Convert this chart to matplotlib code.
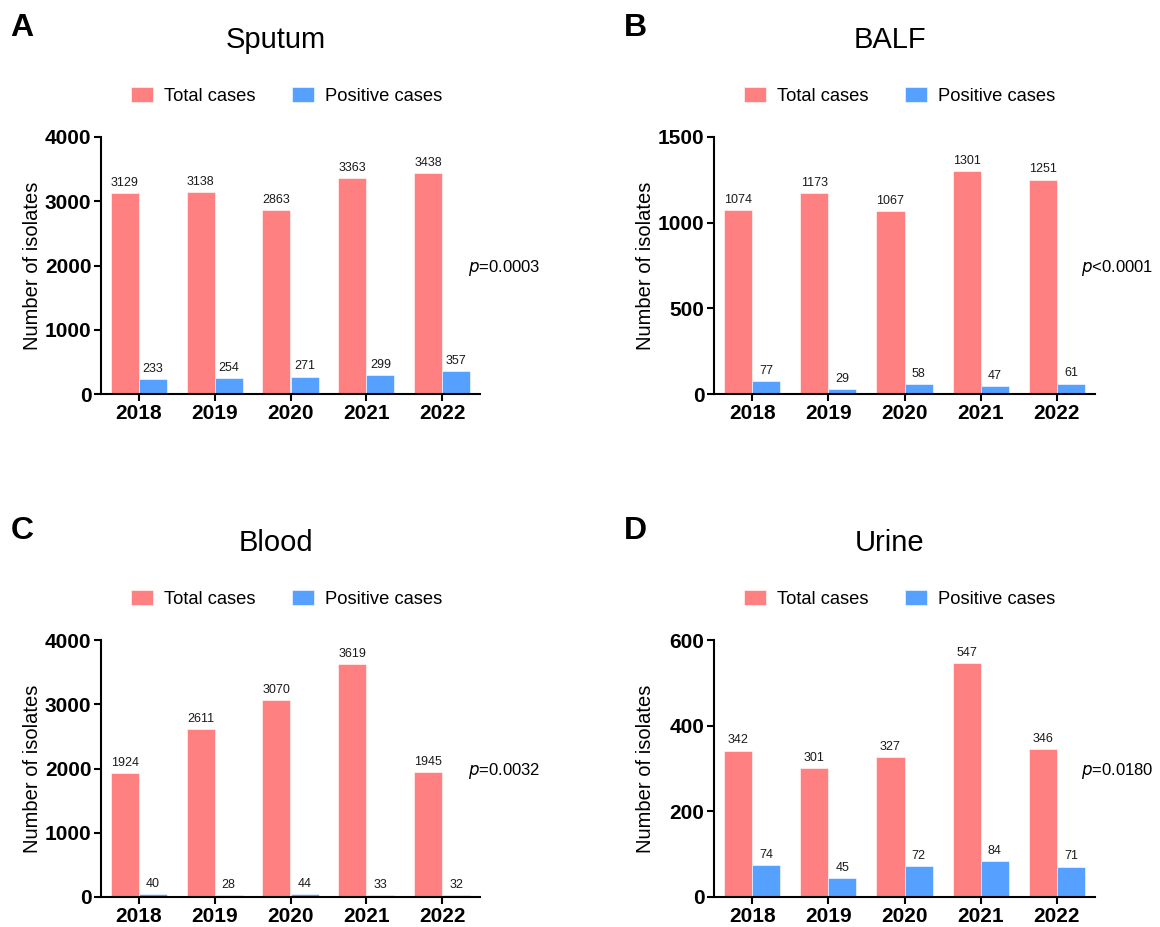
import matplotlib

matplotlib.use("Agg")
import matplotlib.pyplot as plt
import numpy as np

plt.rcParams["font.family"] = ["Liberation Sans", "DejaVu Sans"]

years = ["2018", "2019", "2020", "2021", "2022"]

sputum_total = [3129, 3138, 2863, 3363, 3438]
sputum_pos = [233, 254, 271, 299, 357]
balf_total = [1074, 1173, 1067, 1301, 1251]
balf_pos = [77, 29, 58, 47, 61]
blood_total = [1924, 2611, 3070, 3619, 1945]
blood_pos = [40, 28, 44, 33, 32]
urine_total = [342, 301, 327, 547, 346]
urine_pos = [74, 45, 72, 84, 71]

RED = "#FF8080"
BLUE = "#56A0FF"
W, H = 1160, 927
BAR_W = 0.37


def add_axes_px(fig, left, top, right, bottom):
    return fig.add_axes([left / W, 1 - bottom / H, (right - left) / W, (bottom - top) / H])


def draw_panel(fig, box, letter, title, total, pos, ymax, ystep, ptext):
    left, top, right, bottom = box
    ax = add_axes_px(fig, left, top, right, bottom)
    x = np.arange(len(years))
    b1 = ax.bar(x - BAR_W / 2, total, BAR_W, color=RED, edgecolor="white",
                linewidth=0.4, label="Total cases")
    b2 = ax.bar(x + BAR_W / 2, pos, BAR_W, color=BLUE, edgecolor="white",
                linewidth=0.4, label="Positive cases")
    ax.bar_label(b1, padding=3, fontsize=9, color="#1a1a1a")
    ax.bar_label(b2, padding=3, fontsize=9, color="#1a1a1a")

    ax.set_xlim(-0.5, len(years) - 0.5)
    ax.set_ylim(0, ymax)
    ax.set_yticks(np.arange(0, ymax + 1, ystep))
    ax.set_xticks(x)
    ax.set_xticklabels(years)
    for lbl in ax.get_xticklabels() + ax.get_yticklabels():
        lbl.set_fontweight("bold")
        lbl.set_fontsize(15)
    ax.tick_params(width=1.5, length=5, pad=2)
    for side in ("top", "right"):
        ax.spines[side].set_visible(False)
    for side in ("left", "bottom"):
        ax.spines[side].set_linewidth(1.5)

    # ylabel anchor is the right edge of the rotated text
    ax.set_ylabel("Number of isolates", fontsize=14.5)
    ax.yaxis.set_label_coords(-(left - 42 - (left - 101)) / (right - left), 0.5)

    cx = (left + right) / 2
    fig.text((cx - 15) / W, 1 - (top - 97) / H, title, fontsize=21,
             ha="center", va="center")
    fig.text((left - 79) / W, 1 - (top - 109) / H, letter, fontsize=23,
             fontweight="bold", ha="center", va="center")
    fig.text((left + 367) / W, 1 - (top + 131) / H, ptext, fontsize=12,
             ha="left", va="center")

    ax.legend(loc="center", bbox_to_anchor=((left + 186) / W, 1 - (top - 41) / H),
              bbox_transform=fig.transFigure, ncol=2, frameon=False,
              fontsize=13.2, handlelength=1.2, handleheight=0.85,
              handletextpad=0.6, columnspacing=2.0)
    return ax


fig = plt.figure(figsize=(W / 100, H / 100), dpi=100)

draw_panel(fig, (101, 137, 480, 394), "A", "Sputum", sputum_total, sputum_pos,
           4000, 1000, r"$\it{p}$=0.0003")
draw_panel(fig, (714, 137, 1095, 394), "B", "BALF", balf_total, balf_pos,
           1500, 500, r"$\it{p}$<0.0001")
draw_panel(fig, (101, 640, 480, 897), "C", "Blood", blood_total, blood_pos,
           4000, 1000, r"$\it{p}$=0.0032")
draw_panel(fig, (714, 640, 1095, 897), "D", "Urine", urine_total, urine_pos,
           600, 200, r"$\it{p}$=0.0180")

fig.savefig("out.png", dpi=100)
